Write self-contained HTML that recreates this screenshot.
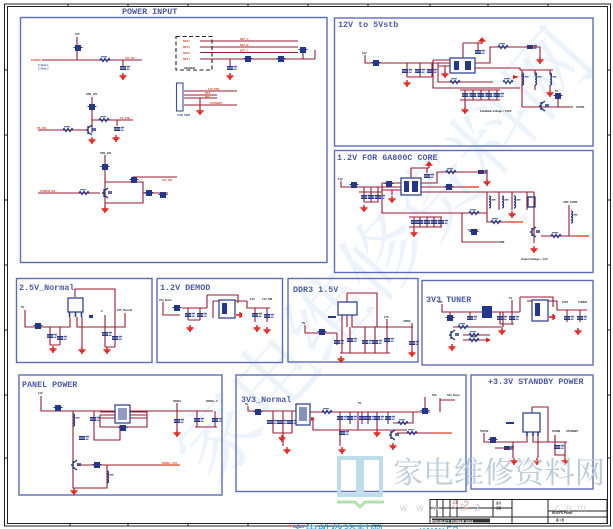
<!DOCTYPE html>
<html><head><meta charset="utf-8"><style>
html,body{margin:0;padding:0;background:#fff;}
svg{display:block;}
.t{font-family:"Liberation Mono",monospace;font-weight:bold;fill:#4d5aa6;font-size:8.4px;}
.s{font-family:"Liberation Sans",sans-serif;font-size:2.6px;font-weight:bold;}
</style></head><body>
<svg width="613" height="529" viewBox="0 0 613 529" xmlns="http://www.w3.org/2000/svg">
<defs>
<g id="g"><path d="M0,-3V0M-3.5,0H3.5M-2.3,1.6H2.3M-1,3.1H1" stroke="#e0201c" stroke-width="1.4" fill="none"/></g>
<g id="c"><path d="M-3,-1.2H3M-3,1.2H3" stroke="#24378a" stroke-width="1.7" fill="none"/><rect x="3.5" y="-2.2" width="3.5" height="1.6" fill="#24378a" opacity=".75"/><rect x="3.5" y=".6" width="3" height="1.4" fill="#24378a" opacity=".65"/></g>
<g id="r"><path d="M-5,0l1,-1.5l2,3l2,-3l2,3l2,-3l1,1.5" stroke="#24378a" stroke-width="1.3" fill="none"/><rect x="-4" y="-4" width="6" height="1.3" fill="#24378a" opacity=".65"/></g>
<g id="l"><path d="M0,-6c2,0 2,3 0,3c2,0 2,3 0,3c2,0 2,3 0,3c2,0 2,3 0,3" stroke="#24378a" stroke-width="1.3" fill="none"/><rect x="2.5" y="-3" width="4" height="1.5" fill="#24378a" opacity=".65"/></g>
<g id="b"><rect x="-3" y="-3" width="6" height="6" fill="#24378a"/><rect x="-4.5" y="-1" width="9" height="1" fill="#24378a"/></g>
<g id="q"><path d="M-3,-4V4M-3,0H-5M-3,-2L1,-5M-3,2L1,5" stroke="#24378a" stroke-width="1.4" fill="none"/><rect x="1" y="-2" width="4" height="3" fill="#24378a" opacity=".75"/></g>
</defs>

<!-- big faint diagonal watermark -->
<text x="405" y="275" transform="rotate(-48 405 275)" text-anchor="middle" font-family="'Noto Serif CJK SC','WenQuanYi Zen Hei',serif" font-size="82" fill="#e6eef8" opacity="0.7">家电维修资料网</text>

<!-- outer frame -->
<g fill="none" stroke="#222" stroke-width="1">
<rect x="4.5" y="4" width="606" height="522"/>
<rect x="7.5" y="6.5" width="600" height="517"/>
</g>
<g stroke="#222" stroke-width="1">
<path d="M68,4V7M128,4V7M188,4V7M248,4V7M308,4V7M368,4V7M430,4V7M488,4V7M548,4V7"/>
<path d="M70,523V526M128,523V526M188,523V526M248,523V526M308,523V526"/>
<path d="M4.5,70H7.5M4.5,135H7.5M4.5,200H7.5M4.5,265H7.5M4.5,330H7.5M4.5,395H7.5M4.5,458H7.5"/>
<path d="M607.5,70H610.5M607.5,135H610.5M607.5,200H610.5M607.5,265H610.5M607.5,330H610.5M607.5,395H610.5M607.5,458H610.5"/>
</g>

<!-- section boxes -->
<g fill="none" stroke="#5d6cb8" stroke-width="1.4">
<rect x="20.5" y="17.5" width="306.5" height="245"/>
<rect x="334.5" y="18" width="258.5" height="128"/>
<rect x="334.5" y="150.5" width="258.5" height="122"/>
<rect x="16.5" y="278.5" width="135.5" height="84"/>
<rect x="157" y="278.5" width="125.5" height="84"/>
<rect x="288" y="278.5" width="130" height="83.5"/>
<rect x="422" y="280.5" width="171" height="84.5"/>
<rect x="19" y="375" width="203" height="120"/>
<rect x="236" y="375" width="230" height="116.5"/>
<rect x="471" y="375" width="122" height="114"/>
</g>

<!-- titles -->
<text class="t" x="122" y="14">POWER INPUT</text>
<text class="t" x="338" y="27">12V to 5Vstb</text>
<text class="t" x="337" y="160">1.2V FOR 6A800C CORE</text>
<text class="t" x="19" y="290">2.5V_Normal</text>
<text class="t" x="160" y="290">1.2V  DEMOD</text>
<text class="t" x="293" y="292">DDR3 1.5V</text>
<text class="t" x="426" y="302">3V3 TUNER</text>
<text class="t" x="22" y="387">PANEL POWER</text>
<text class="t" x="241" y="402">3V3_Normal</text>
<text class="t" x="488" y="384">+3.3V STANDBY POWER</text>

<!-- ============ POWER INPUT ============ -->
<g stroke="#981a32" stroke-width="1.1" fill="none">
<path d="M42,60H142M77,37V60"/>
<path d="M123,60V66"/>
<path d="M200,41H298M200,47H298M200,52.5H298M200,59H315M230,59V66M303,50V59M315,50V59"/>
<path d="M184,91H237M184,95H217M184,98H217M184,105H237M200,98V108"/>
<path d="M92,97V133M92,120H133M117,120V126M38,130H88"/>
<path d="M105,155V207M105,182H143V203H105M133,182V177H177M143,193H168M38,193H100"/>
</g>
<rect x="176" y="36.5" width="36" height="33.5" fill="none" stroke="#222" stroke-width="1.1" stroke-dasharray="4,2.5"/>
<rect x="176.5" y="83" width="6.5" height="28" fill="none" stroke="#3a4d9c" stroke-width="1.1"/>
<use href="#b" x="78" y="48"/>
<use href="#r" x="105" y="60"/>
<use href="#c" x="123" y="68"/>
<use href="#g" x="123" y="76"/>
<use href="#c" x="230" y="68"/>
<use href="#g" x="230" y="76"/>
<use href="#b" x="248" y="59"/>
<use href="#b" x="281" y="59"/>
<use href="#b" x="303" y="50"/>
<use href="#g" x="200" y="111"/>
<use href="#b" x="92" y="107"/>
<use href="#r" x="104" y="120"/>
<use href="#c" x="117" y="129"/>
<use href="#g" x="116" y="138"/>
<use href="#q" x="91" y="130"/>
<use href="#g" x="92" y="140"/>
<use href="#r" x="68" y="130"/>
<use href="#b" x="105" y="167"/>
<use href="#b" x="134" y="180"/>
<use href="#b" x="149" y="193"/>
<use href="#b" x="163" y="195"/>
<use href="#q" x="107" y="193"/>
<use href="#r" x="84" y="193"/>
<use href="#g" x="105" y="209"/>
<g class="s">
<text x="31" y="61" fill="#e0401c">POWER</text>
<text x="75" y="35" fill="#222">12V</text>
<text x="38" y="66" fill="#3a4d9c">C Note 1</text>
<text x="38" y="69.5" fill="#3a4d9c">C Note 2</text>
<text x="125" y="59" fill="#e0401c">12V_DC</text>
<text x="183" y="42" fill="#e0401c">NET1</text>
<text x="183" y="48" fill="#e0401c">NET2</text>
<text x="183" y="54" fill="#e0401c">NET3</text>
<text x="183" y="60" fill="#e0401c">NET4</text>
<text x="240" y="40" fill="#e0401c">NET_A</text>
<text x="240" y="46" fill="#e0401c">NET_B</text>
<text x="240" y="51.5" fill="#e0401c">NET_C</text>
<text x="184" y="69" fill="#222">HEADER</text>
<text x="208" y="90" fill="#e0401c">12V_STB</text>
<text x="205" y="94" fill="#e0401c">RST</text>
<text x="205" y="98" fill="#e0401c">IRQ</text>
<text x="210" y="104" fill="#e0401c">STANDBY</text>
<text x="177" y="116" fill="#3a4d9c">CON_PWR</text>
<text x="86" y="95" fill="#222">STB_12V</text>
<text x="120" y="119" fill="#e0401c">5V_STB</text>
<text x="37" y="129" fill="#e0401c">PS_ON</text>
<text x="100" y="154" fill="#222">STB_12V</text>
<text x="162" y="181" fill="#e0401c">12V_ON</text>
<text x="40" y="192" fill="#e0401c">POWER_ON</text>
</g>

<!-- ============ 12V to 5Vstb ============ -->
<g stroke="#981a32" stroke-width="1.1" fill="none">
<path d="M365,55V63H450M407,63V77M420,63V77M432,63V77M407,77H432"/>
<path d="M433,60V88H520M438,63V82H493M433,60H450M438,66H450"/>
<path d="M463,43V58M463,43H482M478,43V50"/>
<path d="M475,63H490V47H540V57"/>
<path d="M475,68H520V70H553M522,70V107M535,70V75M550,70V75M535,85V90M550,85V90"/>
<path d="M460,90H500M460,100H500M465,90V108M473,90V100M481,90V100M489,90V100M497,90V100"/>
<path d="M522,107H573M558,93V107"/>
<path d="M445,66V71"/>
</g>
<rect x="450" y="58" width="25" height="15" fill="#fff" stroke="#24378a" stroke-width="1.2"/>
<path d="M454,61h5v9h-5zM465,61h6v9h-6z" fill="#24378a"/>
<use href="#b" x="376" y="63"/>
<use href="#c" x="405" y="71"/>
<use href="#c" x="418" y="71"/>
<use href="#c" x="430" y="71"/>
<use href="#g" x="407" y="83"/>
<use href="#g" x="445" y="74"/>
<path d="M482,44v-3M478.5,41h7M480,39.5h4M481.3,38h1.4" stroke="#e0201c" stroke-width="1.4"/>
<use href="#c" x="478" y="52"/>
<use href="#r" x="503" y="47"/>
<use href="#c" x="530" y="47"/>
<use href="#g" x="540" y="60"/>
<use href="#l" x="522" y="79"/>
<use href="#l" x="535" y="79"/>
<use href="#l" x="550" y="79"/>
<use href="#g" x="550" y="93"/>
<use href="#r" x="508" y="82"/>
<path d="M513,75l6,2-6,2z" fill="#e0201c"/>
<use href="#c" x="465" y="95"/>
<use href="#c" x="473" y="95"/>
<use href="#c" x="481" y="95"/>
<use href="#c" x="489" y="95"/>
<use href="#c" x="497" y="95"/>
<use href="#g" x="465" y="110"/>
<use href="#q" x="544" y="106"/>
<use href="#b" x="558" y="96"/>
<use href="#r" x="455" y="82"/>
<g class="s">
<text x="362" y="54" fill="#222">12V</text>
<text x="576" y="108" fill="#222">5VSTB</text>
<text x="480" y="112" fill="#222">Feedback Voltage = 5.25V</text>
<text x="555" y="92" fill="#222">5V</text>
</g>

<!-- ============ 1.2V CORE ============ -->
<g stroke="#981a32" stroke-width="1.1" fill="none">
<path d="M341,181V187H401M364,187V202M371,187V202M378,187V202M359,192H382M364,202H378"/>
<path d="M382,183V213H487M382,183H401M382,190H401M392,190V195"/>
<path d="M411,168V178M411,168H429M427,168V173"/>
<path d="M421,183H437V172H487V180M421,187H467M421,192H534"/>
<path d="M487,192V222H507M499,192V210M512,192V210M527,192V210M534,192V243"/>
<path d="M462,213V242H497"/>
<path d="M409,217H442M409,227H442M414,217V230M420,217V227M427,217V227M434,217V227M441,217V227"/>
<path d="M541,236H587M569,205V236"/>
</g>
<rect x="401" y="178" width="20" height="17" fill="#fff" stroke="#24378a" stroke-width="1.2"/>
<path d="M404,181h5v11h-5zM412,181h6v11h-6z" fill="#24378a"/>
<use href="#b" x="354" y="185"/>
<use href="#c" x="364" y="197"/>
<use href="#c" x="371" y="197"/>
<use href="#c" x="378" y="197"/>
<use href="#g" x="364" y="208"/>
<use href="#b" x="389" y="184"/>
<use href="#g" x="392" y="199"/>
<path d="M429,168v-3M425.5,165h7M427,163.5h4M428.3,162h1.4" stroke="#e0201c" stroke-width="1.4"/>
<use href="#c" x="427" y="176"/>
<use href="#r" x="451" y="172"/>
<use href="#c" x="481" y="172"/>
<use href="#g" x="487" y="182"/>
<use href="#b" x="449" y="187"/>
<path d="M467,187h12" stroke="#e0401c" stroke-width="1.4"/>
<use href="#l" x="489" y="202"/>
<use href="#l" x="502" y="202"/>
<use href="#l" x="514" y="202"/>
<rect x="528" y="197" width="7" height="10" fill="none" stroke="#24378a" stroke-width="1.3"/>
<use href="#g" x="512" y="214"/>
<use href="#r" x="474" y="213"/>
<use href="#r" x="496" y="222"/>
<path d="M507,222h16" stroke="#e0401c" stroke-width="1.3"/>
<use href="#c" x="414" y="222"/>
<use href="#c" x="420" y="222"/>
<use href="#c" x="427" y="222"/>
<use href="#c" x="434" y="222"/>
<use href="#c" x="441" y="222"/>
<use href="#g" x="414" y="233"/>
<use href="#b" x="474" y="232"/>
<use href="#q" x="535" y="232"/>
<use href="#g" x="534" y="249"/>
<use href="#r" x="556" y="236"/>
<path d="M577,236h12" stroke="#e0401c" stroke-width="1.4"/>
<use href="#l" x="571" y="217"/>
<g class="s">
<text x="338" y="180" fill="#222">12V</text>
<text x="563" y="203" fill="#222">VDD_CORE</text>
<text x="497" y="243" fill="#222">CORE</text>
<text x="468" y="231" fill="#222">FB_VCC</text>
<text x="521" y="260" fill="#222">Output Voltage = 1.2V</text>
</g>

<!-- ============ 2.5V Normal ============ -->
<g stroke="#981a32" stroke-width="1.1" fill="none">
<path d="M25,310V327H70V317M50,327V345M60,327V345M50,345H60"/>
<path d="M82,317V347M77,317V327H125V313M75,297V289H115V327"/>
<path d="M105,315V347M115,327V347M105,347H115"/>
</g>
<rect x="68" y="298" width="15" height="14" fill="#fff" stroke="#24378a" stroke-width="1.2"/>
<path d="M69.5,312v5M75.5,312v5M81.5,312v5" stroke="#24378a" stroke-width="1.5"/>
<use href="#b" x="38" y="326"/>
<use href="#c" x="50" y="336"/>
<use href="#c" x="60" y="338"/>
<use href="#g" x="53" y="349"/>
<use href="#g" x="82" y="350"/>
<use href="#c" x="105" y="334"/>
<use href="#c" x="115" y="338"/>
<use href="#g" x="107" y="350"/>
<rect x="89" y="315" width="4" height="3" fill="#24378a"/>
<g class="s"><text x="21" y="308" fill="#222">5V</text><text x="117" y="311" fill="#222">2V5_Normal</text><text x="101" y="312" fill="#222">C</text></g>

<!-- ============ 1.2V DEMOD ============ -->
<g stroke="#981a32" stroke-width="1.1" fill="none">
<path d="M163,302V315H180M182,308H207M188,308V320M200,308V320M188,320H200"/>
<path d="M207,295V308M207,295H238V303M213,301H247M213,301V318M247,301V308H270M255,308V322M267,308V322"/>
</g>
<rect x="219" y="300" width="16" height="18" fill="#fff" stroke="#24378a" stroke-width="1.2"/>
<rect x="222" y="303" width="5" height="11" fill="#24378a"/>
<use href="#b" x="177" y="308"/>
<use href="#c" x="188" y="315"/>
<use href="#c" x="200" y="315"/>
<use href="#g" x="190" y="328"/>
<path d="M236,315h4M240,312v6M241.5,313v4" stroke="#e0201c" stroke-width="1.4"/>
<use href="#c" x="255" y="315"/>
<use href="#c" x="267" y="316"/>
<use href="#g" x="257" y="328"/>
<use href="#g" x="267" y="330"/>
<g class="s"><text x="159" y="301" fill="#222">3V3_Norm</text><text x="250" y="300" fill="#222">1V2</text><text x="262" y="300" fill="#222">1V2_DM</text></g>

<!-- ============ DDR3 1.5V ============ -->
<g stroke="#981a32" stroke-width="1.1" fill="none">
<path d="M347,293V302M347,293H377V327M342,315V353M347,315V327M352,315V327H413"/>
<path d="M305,325V333H337M337,333V345M350,327V353M365,327V353M375,327V353M387,319V353M340,353H390M412,323V350"/>
</g>
<rect x="338" y="302" width="19" height="13" fill="#fff" stroke="#24378a" stroke-width="1.2"/>
<use href="#b" x="322" y="332"/>
<use href="#c" x="337" y="342"/>
<use href="#c" x="350" y="340"/>
<use href="#c" x="365" y="342"/>
<use href="#c" x="375" y="342"/>
<use href="#c" x="387" y="340"/>
<use href="#g" x="341" y="359"/>
<use href="#c" x="412" y="343"/>
<use href="#g" x="412" y="353"/>
<rect x="328" y="316" width="8" height="2" fill="#24378a"/>
<g class="s"><text x="302" y="324" fill="#222">5V</text><text x="384" y="318" fill="#222">1V5</text><text x="403" y="322" fill="#222">VDDQ</text></g>

<!-- ============ 3V3 TUNER ============ -->
<g stroke="#981a32" stroke-width="1.1" fill="none">
<path d="M442,304V312H520M450,312V320M470,312V320M453,327H503M503,312V327M463,335H490M463,340H488"/>
<path d="M500,312V324M512,300V324M500,324H514"/>
<path d="M520,297V312M520,297H553V307M527,301H557V310H587M567,310V322M580,310V322"/>
</g>
<use href="#b" x="450" y="318"/>
<use href="#c" x="470" y="318"/>
<use href="#q" x="454" y="335"/>
<use href="#r" x="463" y="327"/>
<use href="#r" x="474" y="335"/>
<use href="#r" x="474" y="340"/>
<path d="M486,337.5l5,2.5-5,2.5z" fill="#e0201c"/>
<use href="#g" x="452" y="347"/>
<rect x="482" y="306" width="10" height="12" fill="#24378a"/>
<use href="#c" x="500" y="318"/>
<use href="#c" x="512" y="318"/>
<use href="#g" x="502" y="331"/>
<rect x="532" y="300" width="16" height="21" fill="#fff" stroke="#24378a" stroke-width="1.2"/>
<rect x="535" y="303" width="5" height="13" fill="#24378a"/>
<path d="M549,317h4M553,314v6M554.5,315v4" stroke="#e0201c" stroke-width="1.4"/>
<use href="#c" x="567" y="318"/>
<use href="#c" x="580" y="318"/>
<use href="#g" x="578" y="331"/>
<g class="s"><text x="438" y="303" fill="#222">12V</text><text x="509" y="299" fill="#222">5V</text><text x="562" y="303" fill="#222">3V3T</text><text x="578" y="303" fill="#222">TUNER</text></g>

<!-- ============ PANEL POWER ============ -->
<g stroke="#981a32" stroke-width="1.1" fill="none">
<path d="M41,396V411H213M100,412H115M100,415H115M100,418H115M130,412H147M130,415H147M130,418H147"/>
<path d="M147,411V427H100V415M73,411V488H107V465M94,411V440H120V425"/>
<path d="M77,465H162M177,403V430M197,411V427M215,411V427M195,427H217"/>
</g>
<path d="M162,465h18" stroke="#e0401c" stroke-width="1.3"/>
<use href="#b" x="58" y="408"/>
<rect x="115" y="405" width="15" height="18" fill="#fff" stroke="#24378a" stroke-width="1.2"/>
<rect x="118" y="408" width="9" height="12" fill="#24378a" opacity=".5"/>
<use href="#l" x="73" y="420"/>
<use href="#c" x="93" y="419"/>
<use href="#b" x="123" y="428"/>
<use href="#c" x="82" y="438"/>
<use href="#q" x="76" y="465"/>
<use href="#b" x="97" y="465"/>
<use href="#l" x="107" y="477"/>
<use href="#g" x="74" y="491"/>
<use href="#c" x="177" y="421"/>
<use href="#c" x="197" y="420"/>
<use href="#c" x="215" y="420"/>
<use href="#g" x="177" y="433"/>
<g class="s"><text x="38" y="394" fill="#222">12V</text><text x="173" y="402" fill="#222">PANEL</text><text x="206" y="402" fill="#222">PANEL_V</text><text x="162" y="464" fill="#e0401c">PANEL_VCC</text></g>

<!-- ============ 3V3 Normal ============ -->
<g stroke="#981a32" stroke-width="1.1" fill="none">
<path d="M248,406V411H298M273,411V433M283,411V433M292,411V433M273,433H292M283,433V446"/>
<path d="M310,412H430M313,417V430H407M340,412V446M350,412V424M358,412V430M362,412V424M368,412V424M377,412V430M388,412V424M413,412V423H393"/>
<path d="M425,397V412M440,398V412M440,400H455"/>
<path d="M397,433H433"/>
</g>
<path d="M433,433h19" stroke="#e0401c" stroke-width="1.3"/>
<use href="#b" x="258" y="412"/>
<use href="#c" x="270" y="422"/>
<use href="#c" x="280" y="422"/>
<use href="#c" x="290" y="422"/>
<use href="#g" x="282" y="438"/>
<use href="#g" x="287" y="450"/>
<rect x="296" y="404" width="14" height="21" fill="#fff" stroke="#24378a" stroke-width="1.2"/>
<rect x="299" y="407" width="8" height="14" fill="#24378a" opacity=".55"/>
<path d="M311,417l4,2-4,2z" fill="#e0201c"/>
<use href="#r" x="327" y="412"/>
<use href="#c" x="340" y="418"/>
<use href="#c" x="350" y="418"/>
<use href="#c" x="362" y="418"/>
<use href="#c" x="368" y="418"/>
<use href="#c" x="377" y="418"/>
<use href="#c" x="388" y="418"/>
<use href="#c" x="342" y="433"/>
<use href="#g" x="342" y="450"/>
<use href="#g" x="377" y="433"/>
<use href="#r" x="403" y="423"/>
<use href="#b" x="425" y="411"/>
<use href="#q" x="394" y="435"/>
<use href="#g" x="393" y="446"/>
<use href="#r" x="412" y="433"/>
<g class="s"><text x="245" y="405" fill="#222">5V</text><text x="432" y="396" fill="#222">3V3</text><text x="447" y="396" fill="#222">3V3_Norm</text><text x="358" y="404" fill="#222">5V</text></g>

<!-- ============ +3.3V STANDBY ============ -->
<g stroke="#981a32" stroke-width="1.1" fill="none">
<path d="M484,433V442H527V432M495,448H513M513,442V458M533,432V442H567M538,432V458"/>
<path d="M532,407V413M532,407H548V442M555,435V455H565M565,442V458"/>
</g>
<rect x="523" y="413" width="17" height="19" fill="#fff" stroke="#24378a" stroke-width="1.2"/>
<path d="M527,432v4M533,432v4M538,432v4" stroke="#24378a" stroke-width="1.5"/>
<use href="#b" x="493" y="440"/>
<use href="#c" x="507" y="448"/>
<use href="#g" x="514" y="461"/>
<use href="#g" x="537" y="461"/>
<use href="#c" x="557" y="447"/>
<use href="#g" x="565" y="461"/>
<rect x="506" y="422" width="8" height="2" fill="#24378a"/>
<g class="s"><text x="480" y="432" fill="#222">5VSTB</text><text x="552" y="432" fill="#222">3V3SB</text><text x="566" y="432" fill="#222">STANDBY</text></g>

<!-- ============ logo watermark ============ -->
<g fill="none" stroke="#bfdcea" stroke-width="4">
<path d="M339,458H358V495H339Z"/>
<path d="M362,458H381V495H362Z"/>
</g>
<path d="M337,502H355L360,507L365,502H384" fill="none" stroke="#b2e0ae" stroke-width="3"/>
<text x="393" y="483" font-family="'Noto Serif CJK SC','Noto Sans CJK SC',serif" font-size="30" fill="#bccbd8" textLength="212" lengthAdjust="spacingAndGlyphs">家电维修资料网</text>

<!-- title block -->
<g fill="none" stroke="#222" stroke-width="1">
<rect x="430" y="499.5" width="177" height="24"/>
<path d="M430,508H512M430,517H607M548,511H607"/>
<path d="M437,499.5V517M443,499.5V517M450,499.5V517M457,499.5V517M493,499.5V517M512,499.5V523.5M548,499.5V523.5"/>
</g>
<text x="400" y="511" font-family="'Liberation Sans',sans-serif" font-size="10" fill="#c9ced4" letter-spacing="9">www.52</text>
<text x="555" y="511" font-family="'Liberation Sans',sans-serif" font-size="10" fill="#d2d6da" letter-spacing="6">com</text>
<text x="452" y="508" font-family="'Liberation Sans',sans-serif" font-size="11" fill="#e49a9a" letter-spacing="5">52</text>
<g class="s" fill="#222">
<text x="496" y="504">设计</text><text x="496" y="509">审核</text>
<text x="552" y="514" font-size="3.2">KUSYS Panel</text>
<text x="556" y="521">第 1 张</text>
</g>
<rect x="432" y="518.5" width="58" height="4" fill="#333"/>
<text x="432" y="522.5" font-family="'Liberation Sans',sans-serif" font-size="3.6" font-weight="bold" fill="#fff">PRODUCT POWER SCH</text>

<!-- bottom cyan text -->
<text x="292" y="535" font-family="'Liberation Sans','Noto Sans CJK SC',sans-serif" font-size="13" fill="#3aa3da">家电维修资料网</text>
<text x="420" y="534" font-family="'Liberation Sans',sans-serif" font-size="11" fill="#3aa3da">www.52</text>
</svg>
</body></html>
